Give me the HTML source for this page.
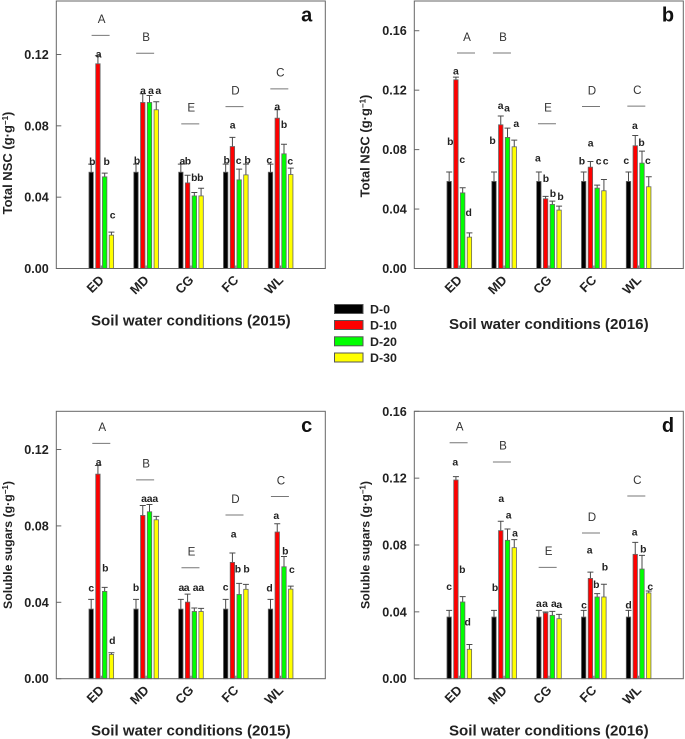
<!DOCTYPE html>
<html lang="en">
<head>
<meta charset="utf-8">
<title>NSC and soluble sugars bar charts</title>
<style>
html,body{margin:0;padding:0;background:#fff;}
#figure{display:block;width:685px;height:739px;font-family:"Liberation Sans",Arial,sans-serif;}
text{font-family:"Liberation Sans",Arial,sans-serif;}
</style>
</head>
<body>
<svg id="figure" xmlns="http://www.w3.org/2000/svg" width="685" height="739" viewBox="0 0 685 739">
  <g>
    <g><rect x="334.5" y="304.5" width="28.5" height="9" fill="#000" stroke="#555"/><text x="370" y="313.7" font-size="12.4" font-weight="bold" fill="#222">D-0</text></g>
    <g><rect x="334.5" y="320.5" width="28.5" height="9" fill="#f00" stroke="#555"/><text x="370" y="329.7" font-size="12.4" font-weight="bold" fill="#222">D-10</text></g>
    <g><rect x="334.5" y="336.8" width="28.5" height="9" fill="#0f0" stroke="#555"/><text x="370" y="346" font-size="12.4" font-weight="bold" fill="#222">D-20</text></g>
    <g><rect x="334.5" y="353" width="28.5" height="9" fill="#ff0" stroke="#555"/><text x="370" y="362.2" font-size="12.4" font-weight="bold" fill="#222">D-30</text></g>
  </g>
</svg>
<script>
const categories = ["ED", "MD", "CG", "FC", "WL"];
const seriesNames = ["D-0", "D-10", "D-20", "D-30"];
const groupLetters = ["A", "B", "E", "D", "C"];

const ticksA = ["0.00", "0.04", "0.08", "0.12"];
const ticksB = ["0.00", "0.04", "0.08", "0.12", "0.16"];
const ticksC = ["0.00", "0.04", "0.08", "0.12"];
const ticksD = ["0.00", "0.04", "0.08", "0.12", "0.16"];

const aMeans = [[.054,.1148,.0514,.0187],[.054,.0931,.0931,.089],[.054,.048,.0407,.0407],[.054,.0684,.0497,.0525],[.054,.0843,.0643,.0527]];
const aErrTop = [[.0585,.1193,.0535,.0204],[.0585,.098,.097,.0935],[.0585,.0523,.0426,.045],[.0585,.0735,.0557,.0585],[.0585,.089,.0697,.0563]];
const aLetters = [["b","a","b","c"],["b","a","a","a"],["a","b","b","b"],["b","a","c","b"],["c","a","b","c"]];
const aLetterLevels = [[.06,.1202,.06,.0301],[.0606,.0998,.0998,.0998],[.0602,.0602,.051,.051],[.0609,.0804,.0606,.0609],[.0609,.0908,.0809,.0604]];
const aLetterNudge = [[1.1,.7,2,1.2],[1,.2,1.5,2],[1.5,.4,0,-.8],[1,.2,-.5,1.7],[-1.2,0,0,-.5]];
const aGroupLevels = [.1307,.1207,.0811,.0908,.1007];
const aGroupNudge = [-.7,-1,-.7,-1.3,-1.3];

const bMeans = [[.0586,.127,.0509,.0211],[.0586,.0967,.0882,.0819],[.0586,.0469,.0431,.0393],[.0586,.0682,.0541,.0523],[.0586,.0826,.0709,.055]];
const bErrTop = [[.0649,.1288,.0543,.024],[.0649,.1026,.0945,.0864],[.0649,.0485,.0453,.042],[.0649,.072,.0561,.0599],[.0649,.0895,.079,.0617]];
const bLetters = [["b","a","c","d"],["b","a","a","a"],["a","b","b","b"],["b","a","c","c"],["c","a","b","c"]];
const bLetterLevels = [[.0855,.1331,.0734,.0377],[.0862,.1097,.1082,.0978],[.0743,.0606,.0507,.0485],[.0725,.0844,.0725,.0725],[.0727,.0963,.0848,.0727]];
const bLetterNudge = [[1.1,0,-.4,-.8],[-1.4,-.1,-.5,2],[-.9,.4,.6,1.5],[-1.7,.2,1.5,1.7],[-2.2,-.3,-.4,-.8]];
const bGroupLevels = [.145,.145,.0974,.109,.1093];
const bGroupNudge = [6.7,-2.2,-2,-2.8,-2.3];

const cMeans = [[.03645,.1071,.0457,.0127],[.03645,.0855,.0874,.0832],[.03645,.0401,.0352,.0352],[.03645,.0609,.0441,.0468],[.03645,.0768,.0586,.0469]];
const cErrTop = [[.0415,.1116,.0478,.0136],[.0415,.0907,.0912,.085],[.0415,.0443,.037,.0368],[.0415,.0658,.0499,.0494],[.0415,.0811,.064,.0485]];
const cLetters = [["c","a","b","d"],["b","a","a","a"],["a","a","a","a"],["c","a","b","b"],["d","a","b","c"]];
const cLetterLevels = [[.0476,.1134,.0581,.0201],[.0478,.0944,.0944,.0944],[.0478,.0478,.0478,.0478],[.0481,.0757,.0576,.0576],[.0476,.0855,.067,.0572]];
const cLetterNudge = [[.1,.7,.6,.9],[0,1.2,.1,-1],[.5,-1,1.3,.2],[0,1.2,-1.2,.7],[-.9,-1,1.3,1.2]];
const cGroupLevels = [.1232,.1041,.0581,.0857,.0954];
const cGroupNudge = [0,-1,-.5,-1.3,-.7];

const dMeans = [[.0369,.1189,.0459,.0176],[.0369,.0886,.0828,.0784],[.0369,.0393,.0379,.0359],[.0369,.06,.0489,.0489],[.0369,.0744,.0656,.0513]];
const dErrTop = [[.0409,.1209,.0491,.0205],[.0409,.0942,.0896,.0832],[.0409,.0399,.0403,.0385],[.0409,.0638,.0509,.0565],[.0409,.0816,.0738,.0525]];
const dLetters = [["c","a","b","d"],["b","a","a","a"],["a","a","a","a"],["c","a","b","b"],["d","a","b","c"]];
const dLetterLevels = [[.0553,.1297,.0654,.0341],[.0547,.1079,.098,.0872],[.0451,.0451,.0451,.0445],[.0441,.0772,.0563,.0668],[.0443,.0878,.0778,.0551]];
const dLetterNudge = [[0,-.6,-.4,-1.8],[1,.5,1.1,.7],[0,-.6,1.6,.2],[.3,-.8,-.9,1],[0,-.6,1.3,1.5]];
const dGroupLevels = [.1412,.1297,.0666,.0872,.1093];
const dGroupNudge = [-.7,-2.2,-1.3,-2.8,-2.3];

const seriesColors = ["#000000", "#ff0000", "#00ff00", "#ffff00"];
const NS = "http://www.w3.org/2000/svg";
const root = document.getElementById("figure");

const panels = [
  {id:"a", left:56.3, top:1, bottom:268.5, yMax:.15, ticks:ticksA, means:aMeans, errs:aErrTop, letters:aLetters, levels:aLetterLevels, nudge:aLetterNudge, gLevels:aGroupLevels, gNudge:aGroupNudge, yTitle:"Total NSC (g·g", yX:8, yY:163, ySize:13, xTitle:"Soil water conditions (2015)", tX:190.8, tY:325.5, mark:[306.7,21.5]},
  {id:"b", left:414.3, top:1, bottom:268.5, yMax:.18, ticks:ticksB, means:bMeans, errs:bErrTop, letters:bLetters, levels:bLetterLevels, nudge:bLetterNudge, gLevels:bGroupLevels, gNudge:bGroupNudge, yTitle:"Total NSC (g·g", yX:365.5, yY:146, ySize:13, xTitle:"Soil water conditions (2016)", tX:548.8, tY:329, mark:[668,21.5]},
  {id:"c", left:56.3, top:411.3, bottom:678.7, yMax:.14, ticks:ticksC, means:cMeans, errs:cErrTop, letters:cLetters, levels:cLetterLevels, nudge:cLetterNudge, gLevels:cGroupLevels, gNudge:cGroupNudge, yTitle:"Soluble sugars (g·g", yX:8, yY:545, ySize:12.3, xTitle:"Soil water conditions (2015)", tX:190.8, tY:735.5, mark:[306.7,432]},
  {id:"d", left:414.3, top:411.3, bottom:678.7, yMax:.16, ticks:ticksD, means:dMeans, errs:dErrTop, letters:dLetters, levels:dLetterLevels, nudge:dLetterNudge, gLevels:dGroupLevels, gNudge:dGroupNudge, yTitle:"Soluble sugars (g·g", yX:365.5, yY:545, ySize:12.3, xTitle:"Soil water conditions (2016)", tX:548.8, tY:735.5, mark:[668,432]}
];

function mk(tag, attrs, parent, txt) {
  const el = document.createElementNS(NS, tag);
  for (const k in attrs) el.setAttribute(k, attrs[k]);
  if (txt !== undefined) el.textContent = txt;
  parent.appendChild(el);
  return el;
}

const PLOT_WIDTH = 269;
const FIRST_GROUP = 45;
const GROUP_STEP = 44.83;
const BAR_OFFSETS = [-1.5, -0.5, 0.5, 1.5];
const BAR_STEP = 6.75;
const BAR_WIDTH = 4.4;

panels.forEach(function (p) {
  const y = function (v) { return p.bottom - (v / p.yMax) * (p.bottom - p.top); };
  const xGroup = function (i) { return p.left + FIRST_GROUP + i * GROUP_STEP; };
  const xBar = function (i, s) { return xGroup(i) + BAR_OFFSETS[s] * BAR_STEP; };

  const g = mk("g", {}, root);
  
  

  // bars and error bars
  p.means.forEach(function (row, i) {
    row.forEach(function (v, s) {
      const cx = xBar(i, s);
      const errLine = mk("path", {
        d: "M" + cx + " " + y(v) + "V" + y(p.errs[i][s]) + "M" + (cx - 3) + " " + y(p.errs[i][s]) + "H" + (cx + 3),
        stroke: "#4a4a4a", "stroke-width": 1, fill: "none"
      }, g);
      
      
      const bar = mk("rect", {
        x: cx - BAR_WIDTH / 2, y: y(v), width: BAR_WIDTH, height: p.bottom - y(v),
        fill: seriesColors[s], stroke: "#666", "stroke-width": 0.8
      }, g);
      
      
    });
  });

  // frame
  const frame = mk("rect", {x: p.left, y: p.top, width: PLOT_WIDTH, height: p.bottom - p.top, fill: "none", stroke: "#666", "stroke-width": 1}, g);
  
  

  // y ticks
  p.ticks.forEach(function (label) {
    const v = parseFloat(label);
    const tick = mk("line", {x1: p.left, x2: p.left + 5, y1: y(v), y2: y(v), stroke: "#666", "stroke-width": 1}, g);
    
    
    const tl = mk("text", {x: p.left - 7.5, y: y(v) + 4.5, "text-anchor": "end", "font-size": 12.6, "font-weight": "bold", fill: "#222"}, g, label);
    
    
  });

  // x ticks + category labels
  categories.forEach(function (c, i) {
    const tick = mk("line", {x1: xGroup(i), x2: xGroup(i), y1: p.bottom, y2: p.bottom - 3, stroke: "#666", "stroke-width": 1}, g);
    
    
    const ex = xGroup(i) + 3.5, ey = p.bottom + 12.3;
    const cl = mk("text", {x: ex, y: ey, "text-anchor": "end", "font-size": 13, "font-weight": "bold", fill: "#222", transform: "rotate(-45 " + ex + " " + ey + ")"}, g, c);
    
    
  });

  // significance letters
  p.letters.forEach(function (row, i) {
    row.forEach(function (t, s) {
      const l = mk("text", {x: xBar(i, s) + p.nudge[i][s], y: y(p.levels[i][s]) + 3.6, "text-anchor": "middle", "font-size": 10.4, "font-weight": "bold", fill: "#222"}, g, t);
      
      
    });
  });

  // group dashes + letters
  groupLetters.forEach(function (t, i) {
    const cx = xGroup(i) + p.gNudge[i];
    const gy = y(p.gLevels[i]);
    const dash = mk("line", {x1: cx - 9, x2: cx + 9, y1: gy, y2: gy, stroke: "#777", "stroke-width": 1}, g);
    
    
    const gl = mk("text", {x: cx + 1, y: gy - 12.2, "text-anchor": "middle", "font-size": 11.6, fill: "#333"}, g, t);
    
    
  });

  // titles
  const yt = mk("text", {x: p.yX + 4, y: p.yY, "text-anchor": "middle", "font-size": p.ySize, "font-weight": "bold", fill: "#222", transform: "rotate(-90 " + (p.yX + 4) + " " + p.yY + ")"}, g);
  
  
  mk("tspan", {}, yt, p.yTitle);
  mk("tspan", {dy: -4, "font-size": 8}, yt, "−1");
  mk("tspan", {dy: 4}, yt, ")");

  const xt = mk("text", {x: p.tX, y: p.tY, "text-anchor": "middle", "font-size": 15.1, "font-weight": "bold", fill: "#222"}, g, p.xTitle);
  
  

  const mark = mk("text", {x: p.mark[0], y: p.mark[1], "text-anchor": "middle", "font-size": 20, "font-weight": "bold", fill: "#111"}, g, p.id);
  
  
});
</script>
</body>
</html>
